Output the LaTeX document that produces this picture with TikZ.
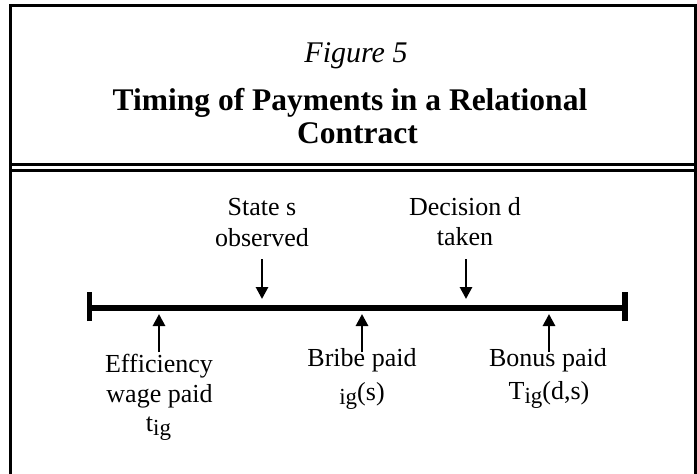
\documentclass[tikz,border=0pt]{standalone}
\usepackage{fontspec}
\setmainfont{Liberation Serif}
\usetikzlibrary{arrows.meta}
% lowered subscript used in the payment labels
\newcommand\paysub[1]{\raisebox{-4pt}{\fontsize{23}{23}\selectfont #1}}
\begin{document}
\begin{tikzpicture}[x=1pt,y=-1pt,
  frameline/.style={line width=3pt},
  axisline/.style={line width=5.5pt},
  tickline/.style={line width=5.5pt},
  evarrow/.style={line width=2.8pt,-{Triangle[length=12pt,width=12pt]}},
  lbl/.style={font=\fontsize{26}{31}\selectfont, inner sep=0pt, anchor=base},
  figlbl/.style={font=\fontsize{30}{36}\selectfont\itshape, inner sep=0pt, anchor=base},
  titlelbl/.style={font=\fontsize{31.5}{36}\selectfont\bfseries, inner sep=0pt, anchor=base},
]
\useasboundingbox (0,0) rectangle (697,474);

% outer frame, open at the bottom
\draw[frameline] (10.5,474) -- (10.5,5.5) -- (695.5,5.5) -- (695.5,474);
% double rule under the heading
\draw[frameline] (10.5,164.5) -- (695.5,164.5);
\draw[frameline] (10.5,170.5) -- (695.5,170.5);

% heading
\node[figlbl]   (fig)  at (356,62.7) {Figure 5};
\node[titlelbl] (tit1) at (350,110)  {Timing of Payments in a Relational};
\node[titlelbl] (tit2) at (357.5,143) {Contract};

% time line with end ticks
\coordinate (tStart) at (89.5,308);
\coordinate (tEnd)   at (625,308);
\draw[axisline] (tStart) -- (tEnd);
\draw[tickline] ([yshift=-13pt]tStart) -- ([yshift=16pt]tStart);
\draw[tickline] ([yshift=-13pt]tEnd) -- ([yshift=16pt]tEnd);

% events above the line
\node[lbl] (st1) at (262,215)   {State s};
\node[lbl] (st2) at (262,246.7) {observed};
\node[lbl] (de1) at (465,215)   {Decision d};
\node[lbl] (de2) at (465,245)   {taken};
\coordinate (stTail) at (262,259);
\coordinate (stTip)  at (262,299);
\coordinate (deTail) at (466,259);
\coordinate (deTip)  at (466,299);
\draw[evarrow] (stTail) -- (stTip);
\draw[evarrow] (deTail) -- (deTip);

% payments below the line
\node[lbl] (ef1) at (159,372)   {Efficiency};
\node[lbl] (ef2) at (159.5,402) {wage paid};
\node[lbl] (ef3) at (158.5,431) {t\paysub{ig}};
\node[lbl] (br1) at (362,366.5) {Bribe paid};
\node[lbl] (br2) at (362,400)   {\paysub{ig}(s)};
\node[lbl] (bo1) at (548,366.5) {Bonus paid};
\node[lbl] (bo2) at (549,399)   {T\paysub{ig}(d,s)};
\coordinate (efTail) at (159,352);
\coordinate (efTip)  at (159,314);
\coordinate (brTail) at (362,352);
\coordinate (brTip)  at (362,314);
\coordinate (boTail) at (549,352);
\coordinate (boTip)  at (549,314);
\draw[evarrow] (efTail) -- (efTip);
\draw[evarrow] (brTail) -- (brTip);
\draw[evarrow] (boTail) -- (boTip);
\end{tikzpicture}
\end{document}
